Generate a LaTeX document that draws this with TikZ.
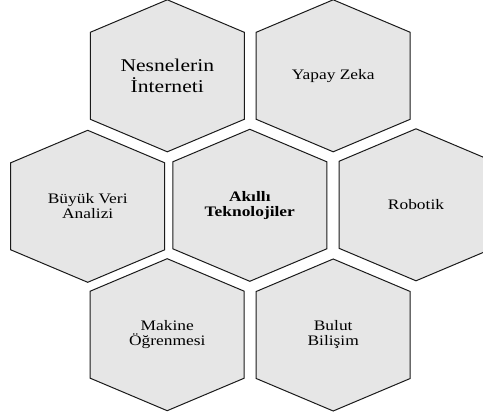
\documentclass[tikz,border=0pt]{standalone}
\usepackage{fontspec}
\setmainfont{Liberation Serif}[FakeStretch=1.2]
\usepackage{xcolor}
\definecolor{hexFill}{HTML}{E6E6E6}
\definecolor{hexBorder}{HTML}{1A1A1A}
\usepackage{tikz}
\usetikzlibrary{calc}
\tikzset{
    hexline/.style={
        draw=hexBorder,
        fill=hexFill,
        line width=1pt,
        line join=miter
    },
    hexlabel/.style={
        align=center,
        inner sep=0pt,
        font=\fontsize{14.5}{15}\selectfont
    },
    biglabel/.style={
        hexlabel,
        font=\fontsize{18}{21}\selectfont
    },
    corelabel/.style={
        hexlabel,
        font=\fontsize{14.5}{15}\selectfont\bfseries
    }
}
% hexagon cell: name, x, y, label style, text
\newcommand{\hexcell}[5]{%
    \path[hexline] (#2,#3) ++(-77,43.5) -- ++(77,32.5) -- ++(77,-32.5)
        -- ++(0,-87) -- ++(-77,-32.5) -- ++(-77,32.5) -- cycle;
    \node[#4] (#1) at (#2,#3) {#5};
}

\begin{document}
\begin{tikzpicture}[x=1pt, y=1pt]
    \useasboundingbox (0,0) rectangle (483,-414);
    \clip (0,0) rectangle (483,-414);

    % Top row
    \hexcell{nesne}{167.3}{-75.8}{biglabel}{Nesnelerin\\İnterneti}
    \hexcell{yapay}{333.2}{-75.8}{hexlabel}{Yapay Zeka}

    % Middle row
    \hexcell{buyuk}{87.7}{-206.3}{hexlabel}{Büyük Veri\\Analizi}
    \hexcell{akilli}{249.8}{-205.3}{corelabel}{Akıllı\\Teknolojiler}
    \hexcell{robot}{416}{-204.8}{hexlabel}{Robotik}

    % Bottom row
    \hexcell{makine}{167.2}{-334.7}{hexlabel}{Makine\\Öğrenmesi}
    \hexcell{bulut}{333.2}{-335}{hexlabel}{Bulut\\Bilişim}
\end{tikzpicture}
\end{document}
